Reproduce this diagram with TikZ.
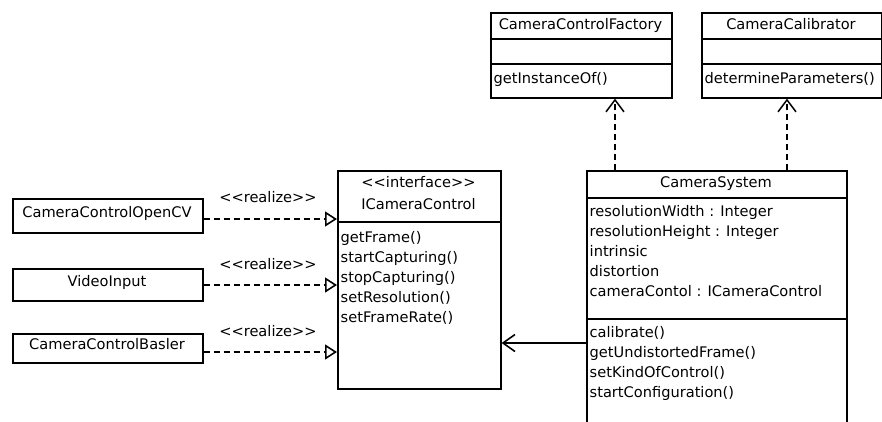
\documentclass[tikz,border=0pt]{standalone}
\usepackage{fontspec}
\setmainfont{DejaVu Sans}
\usetikzlibrary{arrows.meta}
\begin{document}
\begin{tikzpicture}[x=1pt,y=-1pt,
  box/.style={draw,line width=1.6pt,inner sep=0pt,anchor=north west},
  divider/.style={line width=1.3pt},
  txt/.style={inner sep=0pt,text height=11pt,text depth=3pt,font=\fontsize{14.6}{18}\selectfont},
  ltxt/.style={txt,anchor=west},
  realize/.style={line width=1.6pt,dash pattern=on 6pt off 4pt,-{Triangle[open,length=12pt,width=15pt,line width=1.6pt,fill=white]}},
  dep/.style={line width=1.5pt,dash pattern=on 6pt off 4pt,-{Straight Barb[length=12pt,width=18pt,line width=1.5pt]}},
  assoc/.style={line width=1.6pt,-{Straight Barb[length=12pt,width=17pt,line width=1.6pt]}}]
\useasboundingbox (0,0) rectangle (882,421);
\clip (0,0) rectangle (882,421);

% CameraControlFactory
\node[box,minimum width=181pt,minimum height=85pt] (fac) at (490,12) {};
\draw[divider] (490,39) -- (671,39);
\draw[divider] (490,64) -- (671,64);
\node[txt] (facT) at (580.5,25) {CameraControlFactory};
\node[ltxt] (facM) at (493.5,79) {getInstanceOf()};

% CameraCalibrator
\node[box,minimum width=180pt,minimum height=85pt] (cal) at (701,12) {};
\draw[divider] (701,39) -- (881,39);
\draw[divider] (701,64) -- (881,64);
\node[txt] (calT) at (791,25) {CameraCalibrator};
\node[ltxt] (calM) at (704.5,79) {determineParameters()};

% ICameraControl
\node[box,minimum width=163pt,minimum height=218pt] (icc) at (337,170) {};
\draw[divider] (337,222) -- (500,222);
\node[txt] (iccS) at (418.5,183) {<{}<interface>{}>};
\node[txt] (iccT) at (418.5,205) {ICameraControl};
\foreach \t [count=\i] in {getFrame(),startCapturing(),stopCapturing(),setResolution(),setFrameRate()}
  \node[ltxt] (iccM\i) at (340.5,{218+20*\i}) {\t};

% CameraSystem
\node[box,minimum width=260pt,minimum height=270pt] (cs) at (586,170) {};
\draw[divider] (586,198) -- (846,198);
\draw[divider] (586,319) -- (846,319);
\node[txt] (csT) at (716,183) {CameraSystem};
\foreach \t [count=\i] in {resolutionWidth : Integer,resolutionHeight : Integer,intrinsic,distortion,cameraContol : ICameraControl}
  \node[ltxt] (csA\i) at (589.5,{192+20*\i}) {\t};
\foreach \t [count=\i] in {calibrate(),getUndistortedFrame(),setKindOfControl(),startConfiguration()}
  \node[ltxt] (csM\i) at (589.5,{313+20*\i}) {\t};

% left implementations
\node[box,minimum width=190pt,minimum height=34pt] (ocv) at (12,198) {};
\node[txt] (ocvT) at (107,213) {CameraControlOpenCV};
\node[box,minimum width=190pt,minimum height=32pt] (vid) at (12,268) {};
\node[txt] (vidT) at (107,282) {VideoInput};
\node[box,minimum width=190pt,minimum height=29pt] (bas) at (12,333) {};
\node[txt] (basT) at (107,345) {CameraControlBasler};

% realize connectors
\coordinate (y1) at (0,219);
\coordinate (y2) at (0,285);
\coordinate (y3) at (0,352);
\draw[realize] (ocv.east |- y1) -- (icc.west |- y1);
\draw[realize] (vid.east |- y2) -- (icc.west |- y2);
\draw[realize] (bas.east |- y3) -- (icc.west |- y3);
\node[txt] (r1) at (268,198) {<{}<realize>{}>};
\node[txt] (r2) at (268,265) {<{}<realize>{}>};
\node[txt] (r3) at (268,332) {<{}<realize>{}>};

% association
\coordinate (ya) at (0,343);
\draw[assoc] (cs.west |- ya) -- (icc.east |- ya);

% dependencies
\coordinate (x1) at (615,0);
\coordinate (x2) at (787,0);
\draw[dep] (x1 |- cs.north) -- (x1 |- fac.south);
\draw[dep] (x2 |- cs.north) -- (x2 |- cal.south);
\end{tikzpicture}
\end{document}
